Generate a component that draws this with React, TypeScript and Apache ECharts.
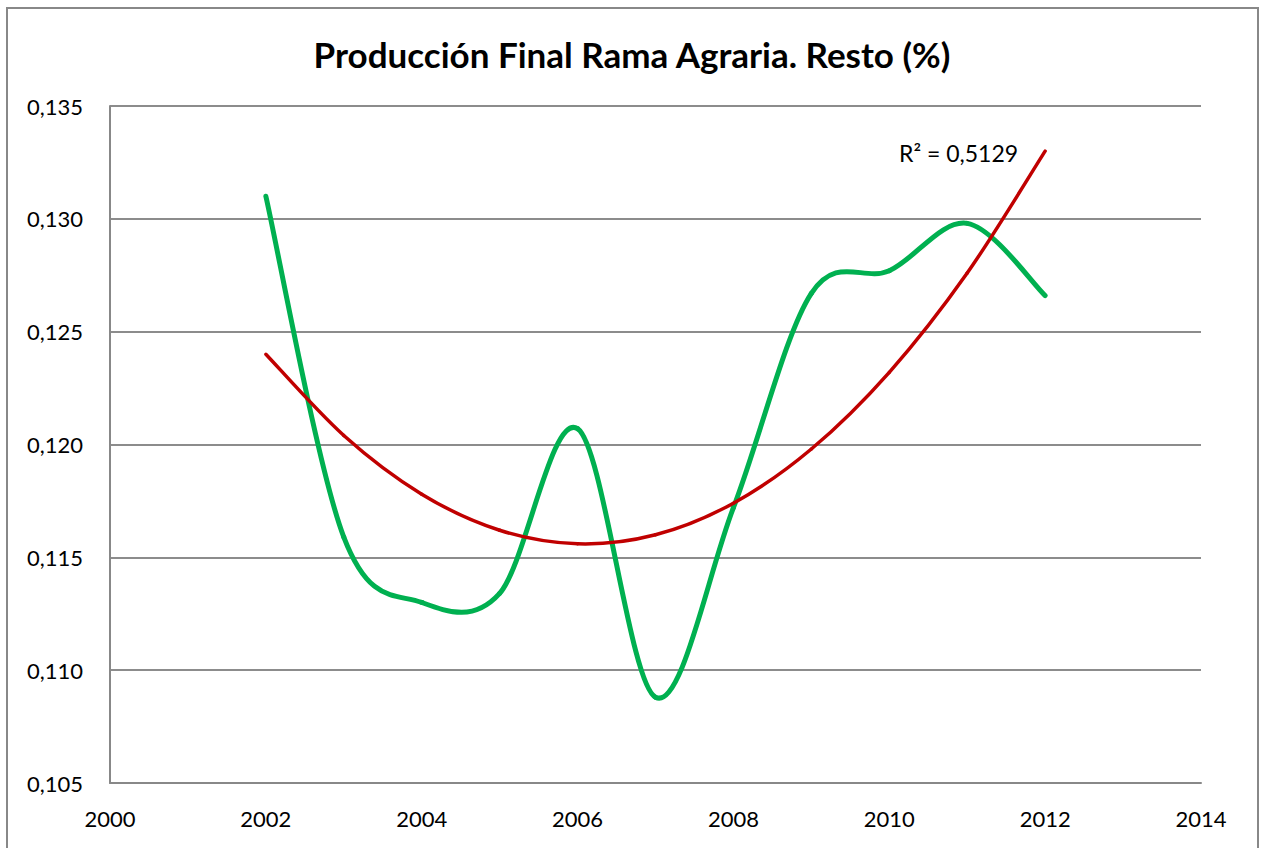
import React, { useEffect, useRef } from "react";
import * as echarts from "echarts";

const titleText = "Producción Final Rama Agraria. Resto (%)";
const years = [2002, 2003, 2004, 2005, 2006, 2007, 2008, 2009, 2010, 2011, 2012];
const restoValues = [0.1310, 0.1159, 0.1130, 0.1134, 0.1207, 0.1088, 0.1172, 0.1267, 0.1277, 0.1298, 0.1266];
const trendValues = [0.1240, 0.1204, 0.1178, 0.1162, 0.1156, 0.1160, 0.1174, 0.1198, 0.1232, 0.1276, 0.1330];
const r2Label = "R² = 0,5129";

const FONT = "Lato, 'Open Sans', sans-serif";

// Smoothed line (Catmull-Rom style, like spreadsheet "smoothed line"), drawn
// segment by segment through the chart's own coordinate system.
function smoothSeries(values: number[], color: string, width: number, z: number) {
  return {
    type: "custom",
    z,
    silent: true,
    encode: { x: 0, y: 1 },
    data: years.slice(0, -1).map((y, i) => [y, values[i]]),
    renderItem: (params: any, api: any) => {
      const i = params.dataIndex;
      const n = years.length;
      const pt = (k: number) => {
        const kk = Math.max(0, Math.min(n - 1, k));
        return api.coord([years[kk], values[kk]]);
      };
      const p0 = pt(i - 1);
      const p1 = pt(i);
      const p2 = pt(i + 1);
      const p3 = pt(i + 2);
      const cp1x = p1[0] + (p2[0] - p0[0]) / 6;
      const cp1y = p1[1] + (p2[1] - p0[1]) / 6;
      const cp2x = p2[0] - (p3[0] - p1[0]) / 6;
      const cp2y = p2[1] - (p3[1] - p1[1]) / 6;
      return {
        type: "bezierCurve",
        shape: {
          x1: p1[0], y1: p1[1],
          x2: p2[0], y2: p2[1],
          cpx1: cp1x, cpy1: cp1y,
          cpx2: cp2x, cpy2: cp2y,
        },
        style: { stroke: color, lineWidth: width, fill: "none", lineCap: "round" },
      };
    },
  };
}

export default function App() {
  const ref = useRef<HTMLDivElement>(null);
  useEffect(() => {
    if (!ref.current) return;
    const chart = echarts.init(ref.current, null, { renderer: "svg" });
    chart.setOption({
      animation: false,
      backgroundColor: "#ffffff",
      title: {
        text: titleText,
        left: "center",
        top: 31,
        textStyle: { fontFamily: FONT, fontSize: 35, fontWeight: "bold", color: "#000" },
      },
      grid: { left: 110, right: 63, top: 106, bottom: 65 },
      xAxis: {
        type: "value",
        min: 2000,
        max: 2014,
        interval: 2,
        axisLine: { show: true, lineStyle: { color: "#888", width: 2 } },
        axisTick: { show: false },
        splitLine: { show: false },
        axisLabel: {
          fontFamily: FONT,
          fontSize: 22,
          color: "#000",
          margin: 24,
          formatter: (v: number) => String(v),
        },
      },
      yAxis: {
        type: "value",
        min: 0.105,
        max: 0.135,
        interval: 0.005,
        axisLine: { show: true, lineStyle: { color: "#888", width: 2 } },
        axisTick: { show: false },
        splitLine: { show: true, lineStyle: { color: "#8c8c8c", width: 2 } },
        axisLabel: {
          fontFamily: FONT,
          fontSize: 22,
          color: "#000",
          margin: 27,
          formatter: (v: number) => v.toFixed(3).replace(".", ","),
        },
      },
      series: [
        smoothSeries(restoValues, "#00B050", 5, 2),
        smoothSeries(trendValues, "#C00000", 3.5, 3),
      ],
      graphic: [
        {
          type: "rect",
          shape: { x: 7, y: 8, width: 1251, height: 900 },
          style: { fill: "none", stroke: "#888", lineWidth: 2 },
          silent: true,
        },
        {
          type: "text",
          x: 899,
          y: 153,
          style: {
            text: r2Label,
            fontFamily: FONT,
            fontSize: 23,
            fill: "#000",
            textVerticalAlign: "middle",
          },
        },
      ],
    });
    return () => chart.dispose();
  }, []);
  return (
    <div
      ref={ref}
      style={{ position: "fixed", left: 0, top: 0, width: 1264, height: 848 }}
    />
  );
}
